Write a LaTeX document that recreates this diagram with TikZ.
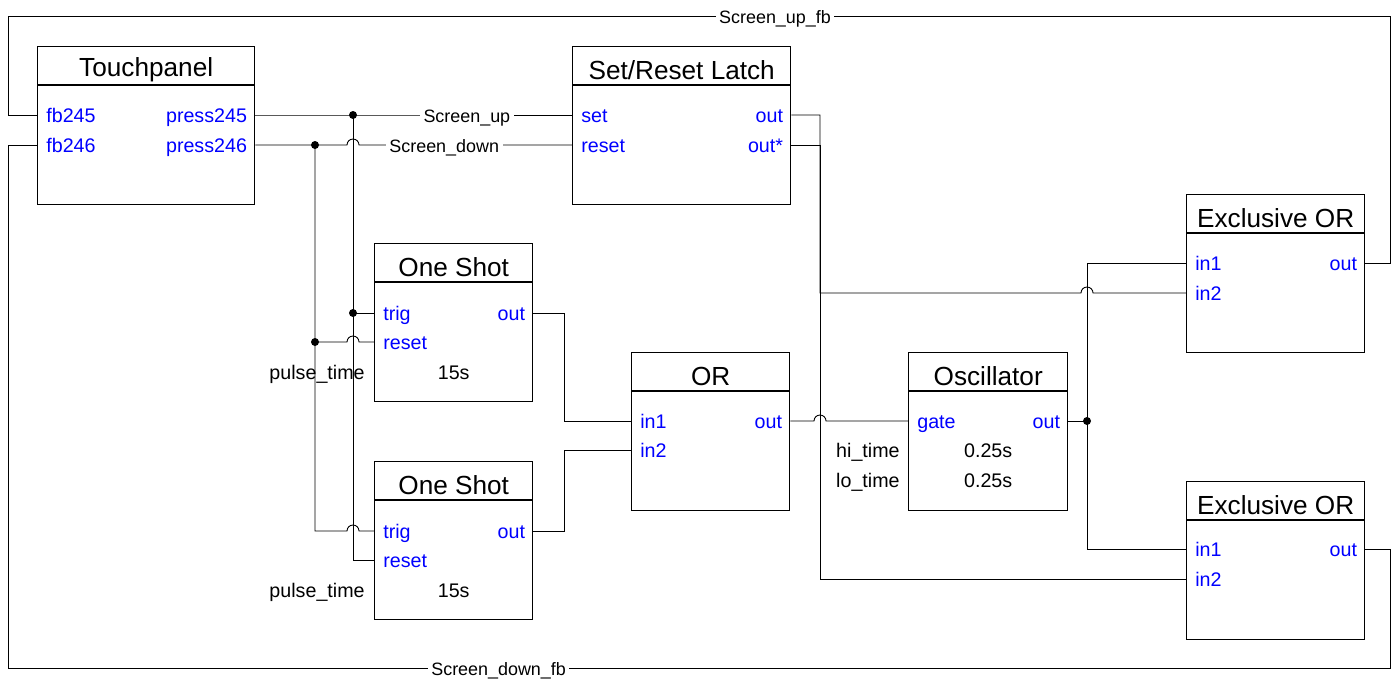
\documentclass[tikz,border=0pt]{standalone}
\usepackage{fontspec}
\setmainfont{Liberation Sans}
\usetikzlibrary{calc,positioning}
\tikzset{
  fbox/.style={draw,line width=0.8pt,rectangle,inner sep=0pt,anchor=north west,minimum height=3.16cm},
  ttl/.style={font=\fontsize{14.9}{17}\selectfont},
  pinl/.style={font=\fontsize{11.2}{13}\selectfont,text=blue,anchor=west,inner xsep=0.18cm,inner ysep=0pt,text height=8pt,text depth=0pt},
  pinr/.style={pinl,anchor=east,inner xsep=0.16cm},
  parm/.style={font=\fontsize{11.2}{13}\selectfont,inner sep=0pt,text height=8pt,text depth=0pt},
  lbl/.style={font=\fontsize{10.2}{12}\selectfont,fill=white,inner xsep=2pt,inner ysep=0pt,text height=8pt,text depth=0pt},
  wire/.style={line width=0.5pt},
  junc/.style={circle,fill,inner sep=0pt,minimum size=0.16cm}
}
\newcommand{\fblock}[5]{% name, x, y, width, title
  \node[fbox,minimum width=#4] (#1) at (#2,#3) {};
  \draw[line width=0.8pt] ($(#1.north west)+(0,39)$) -- ($(#1.north east)+(0,39)$);
  \node[ttl] (#1-title) at ($(#1.north)+(0,24)$) {#5};
}

\begin{document}
\begin{tikzpicture}[x=0.02cm,y=-0.02cm]
  \useasboundingbox (0,0) rectangle (1396,679);

  % blocks
  \fblock{tp}{37}{46}{4.34cm}{Touchpanel}
  \fblock{sr}{572}{46}{4.36cm}{Set/Reset Latch}
  \fblock{os1}{374}{243}{3.16cm}{One Shot}
  \fblock{os2}{374}{461}{3.16cm}{One Shot}
  \fblock{orb}{631}{352}{3.16cm}{OR}
  \fblock{osc}{908}{352}{3.18cm}{Oscillator}
  \fblock{xor1}{1186}{194}{3.56cm}{Exclusive OR}
  \fblock{xor2}{1186}{481}{3.56cm}{Exclusive OR}

  % pins
  \node[pinl] (tp-fb245) at ($(tp.north west)+(0,69)$) {fb245};
  \node[pinl] (tp-fb246) at ($(tp.north west)+(0,99)$) {fb246};
  \node[pinr] (tp-press245) at ($(tp.north east)+(0,69)$) {press245};
  \node[pinr] (tp-press246) at ($(tp.north east)+(0,99)$) {press246};

  \node[pinl] (sr-set) at ($(sr.north west)+(0,69)$) {set};
  \node[pinl] (sr-reset) at ($(sr.north west)+(0,99)$) {reset};
  \node[pinr] (sr-out) at ($(sr.north east)+(0,69)$) {out};
  \node[pinr] (sr-outb) at ($(sr.north east)+(0,99)$) {out*};

  \node[pinl] (os1-trig) at ($(os1.north west)+(0,70)$) {trig};
  \node[pinl] (os1-reset) at ($(os1.north west)+(0,99)$) {reset};
  \node[pinr] (os1-out) at ($(os1.north east)+(0,70)$) {out};
  \node[parm,anchor=east] (os1-pt) at ($(os1.north west)+(-9,129)$) {pulse\_time};
  \node[parm] (os1-val) at ($(os1.north)+(0,129)$) {15s};

  \node[pinl] (os2-trig) at ($(os2.north west)+(0,70)$) {trig};
  \node[pinl] (os2-reset) at ($(os2.north west)+(0,99)$) {reset};
  \node[pinr] (os2-out) at ($(os2.north east)+(0,70)$) {out};
  \node[parm,anchor=east] (os2-pt) at ($(os2.north west)+(-9,129)$) {pulse\_time};
  \node[parm] (os2-val) at ($(os2.north)+(0,129)$) {15s};

  \node[pinl] (orb-in1) at ($(orb.north west)+(0,69)$) {in1};
  \node[pinl] (orb-in2) at ($(orb.north west)+(0,98)$) {in2};
  \node[pinr] (orb-out) at ($(orb.north east)+(0,69)$) {out};

  \node[pinl] (osc-gate) at ($(osc.north west)+(0,69)$) {gate};
  \node[pinr] (osc-out) at ($(osc.north east)+(0,69)$) {out};
  \node[parm,anchor=east] (osc-hi) at ($(osc.north west)+(-8,98)$) {hi\_time};
  \node[parm,anchor=east] (osc-lo) at ($(osc.north west)+(-8,128)$) {lo\_time};
  \node[parm] (osc-hiv) at ($(osc.north)+(0,98)$) {0.25s};
  \node[parm] (osc-lov) at ($(osc.north)+(0,128)$) {0.25s};

  \node[pinl] (xor1-in1) at ($(xor1.north west)+(0,69)$) {in1};
  \node[pinl] (xor1-in2) at ($(xor1.north west)+(0,99)$) {in2};
  \node[pinr] (xor1-out) at ($(xor1.north east)+(0,69)$) {out};

  \node[pinl] (xor2-in1) at ($(xor2.north west)+(0,68)$) {in1};
  \node[pinl] (xor2-in2) at ($(xor2.north west)+(0,98)$) {in2};
  \node[pinr] (xor2-out) at ($(xor2.north east)+(0,68)$) {out};

  % junctions
  \node[junc] (j-up) at (353,115) {};
  \node[junc] (j-dn) at (315,145) {};
  \node[junc] (j-trig) at (353,313) {};
  \node[junc] (j-rst) at (315,342) {};
  \node[junc] (j-osc) at (1087,421) {};

  % wires
  \draw[wire] (tp-press245.east) -- (j-up.center) -- node[lbl,pos=0.52]{Screen\_up} (sr-set.west);
  \draw[wire] (tp-press246.east) -- (j-dn.center) -- (347,145)
    arc[start angle=180,end angle=0,radius=0.12cm] -- node[lbl,pos=0.4]{Screen\_down} (sr-reset.west);
  \draw[wire] (j-up.center) |- (os2-reset.west);
  \draw[wire] (j-trig.center) -- (os1-trig.west);
  \draw[wire] (j-dn.center) |- (347,531)
    arc[start angle=180,end angle=0,radius=0.12cm] -- (os2-trig.west);
  \draw[wire] (j-rst.center) -- (347,342)
    arc[start angle=180,end angle=0,radius=0.12cm] -- (os1-reset.west);

  \draw[wire] (os1-out.east) -- ++(31,0) |- (orb-in1.west);
  \draw[wire] (os2-out.east) -- ++(31,0) |- (orb-in2.west);
  \draw[wire] (orb-out.east) -- (814,421)
    arc[start angle=180,end angle=0,radius=0.12cm] -- (osc-gate.west);

  \draw[wire] (sr-out.east) -| (820,293) -- (1081,293)
    arc[start angle=180,end angle=0,radius=0.12cm] -- (xor1-in2.west);
  \draw[wire] (sr-outb.east) -| (820,579) -- (xor2-in2.west);

  \draw[wire] (osc-out.east) -- (j-osc.center);
  \draw[wire] (j-osc.center) |- (xor1-in1.west);
  \draw[wire] (j-osc.center) |- (xor2-in1.west);

  % feedback
  \draw[wire] (xor1-out.east) -| (1390,16) -- node[lbl,pos=0.445]{Screen\_up\_fb} (8,16)
    |- (tp-fb245.west);
  \draw[wire] (xor2-out.east) -| (1390,668) -- node[lbl,pos=0.645]{Screen\_down\_fb} (8,668)
    |- (tp-fb246.west);
\end{tikzpicture}
\end{document}
